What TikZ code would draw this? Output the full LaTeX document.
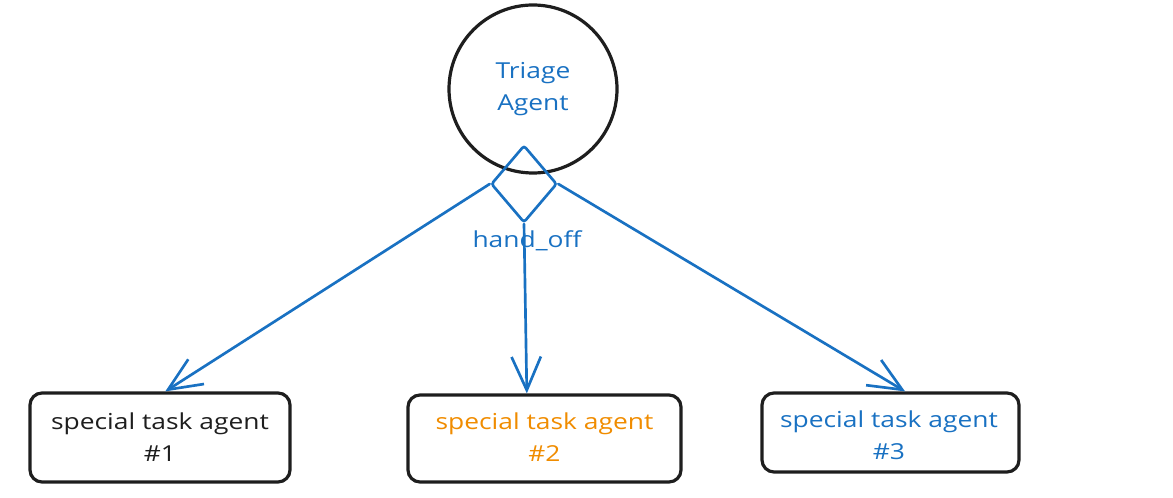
\documentclass[tikz,border=0pt]{standalone}
\usepackage{fontspec}
\setmainfont{Open Sans}[FakeStretch=1.2]
\usetikzlibrary{shapes.geometric,arrows.meta,calc}
\definecolor{xblue}{HTML}{1971C2}
\definecolor{xorange}{HTML}{F08C00}
\definecolor{xblack}{HTML}{1E1E1E}
\tikzset{
  lbl/.style={font=\fontsize{16.5}{24}\selectfont, align=center},
  agentbox/.style={draw=xblack, line width=2.4pt, rounded corners=9pt, inner sep=0pt},
  conn/.style={draw=xblue, line width=2pt, line cap=round, line join=round,
    -{Straight Barb[length=25pt,width=22pt,line width=2pt]}},
}
\begin{document}
\begin{tikzpicture}[x=0.75pt,y=-0.75pt]
\useasboundingbox (0,0) rectangle (1173,498);
\node[circle, draw=xblack, line width=2.4pt, minimum size=126pt, inner sep=0pt] (triage) at (533,89) {};
\node[lbl, text=xblue] (tt) at (533,89) {Triage\\Agent};
\node[diamond, draw=xblue, line width=2pt, rounded corners=2pt, minimum width=49.5pt, minimum height=58pt, inner sep=0pt] (dia) at (524,184) {};
\node[lbl, text=xblue] (ho) at (527,241) {hand\_off};
\node[agentbox, minimum width=195pt, minimum height=66.75pt] (b1) at (160,437.5) {};
\node[lbl, text=xblack] (t1) at (160,437) {special task agent\\\#1};
\node[agentbox, minimum width=204.75pt, minimum height=65.25pt] (b2) at (544.5,438.5) {};
\node[lbl, text=xorange] (t2) at (544.5,437) {special task agent\\\#2};
\node[agentbox, minimum width=192.75pt, minimum height=59.25pt] (b3) at (890.5,432.5) {};
\node[lbl, text=xblue] (t3) at (889,435) {special task agent\\\#3};
\draw[conn] (dia.west) -- ($(b1.north west)!0.52!(b1.north east)$);
\draw[conn] (dia.south) -- ($(b2.north west)!0.436!(b2.north east)$);
\draw[conn] (dia.east) -- ($(b3.north west)!0.556!(b3.north east)$);
\end{tikzpicture}
\end{document}
